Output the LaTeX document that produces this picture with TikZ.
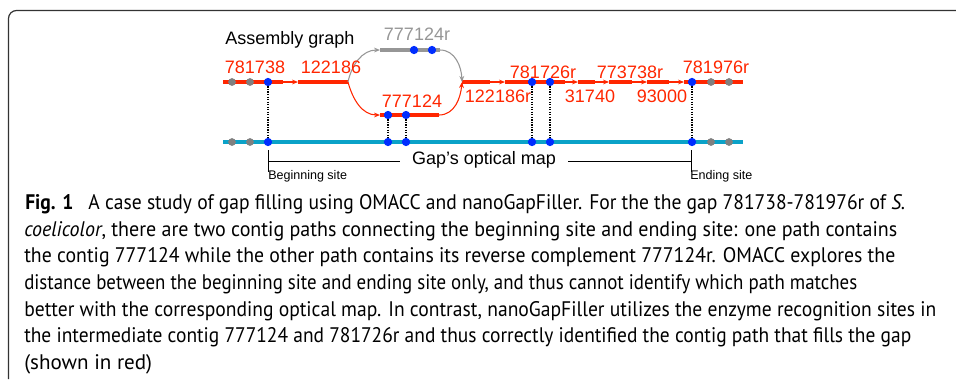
\documentclass[tikz,border=0pt]{standalone}
\usepackage{fontspec}
\usepackage{graphicx}
\setmainfont{Liberation Sans}
\newfontfamily\capfont{PT Sans}
\usetikzlibrary{arrows.meta}

\definecolor{ctgred}{RGB}{255,38,0}
\definecolor{revgray}{RGB}{150,150,150}
\definecolor{dotgray}{RGB}{128,128,128}
\definecolor{siteblue}{RGB}{0,45,255}
\definecolor{mapcyan}{RGB}{10,162,200}

\tikzset{
	contig/.style={line width=3.6pt, line cap=butt},
	ctglink/.style={line width=0.8pt, -{Stealth[length=4.5pt,width=3.6pt]}},
	ctglabel/.style={anchor=base, inner sep=0pt, font=\fontsize{13.5}{16}\selectfont},
	site/.style={circle, inner sep=0pt, minimum size=6.2pt, fill=siteblue},
	othersite/.style={site, minimum size=5.8pt, fill=dotgray},
	align line/.style={densely dotted, line width=0.9pt},
	capline/.style={anchor=base west, inner sep=0pt, font=\capfont\fontsize{15.8}{19}\selectfont}
}

\begin{document}
\begin{tikzpicture}[x=0.75pt,y=0.75pt,yscale=-1,xscale=1]
	\useasboundingbox (0,0) rectangle (956,379);

	% frame of the figure box
	\coordinate (frTR) at (956,10.5);
	\coordinate (frTL) at (8.5,10.5);
	\coordinate (frBL) at (8.5,379);
	\draw [black!80, line width=0.9pt, rounded corners=6pt] (frTR) -- (frTL) -- (frBL);

	% contig ends on the assembly line
	\coordinate (c1s) at (223,82);  \coordinate (c1e) at (283,82);
	\coordinate (c2s) at (298,82);  \coordinate (c2e) at (348,82);
	\coordinate (c3s) at (380,50);  \coordinate (c3e) at (440,50);
	\coordinate (c4s) at (380,115); \coordinate (c4e) at (439,115);
	\coordinate (c5s) at (462,82);  \coordinate (c5e) at (490,82);
	\coordinate (c6s) at (505,82);  \coordinate (c6e) at (565,82);
	\coordinate (c7s) at (578,82);  \coordinate (c7e) at (595,82);
	\coordinate (c8s) at (609,82);  \coordinate (c8e) at (632,82);
	\coordinate (c9s) at (647,82);  \coordinate (c9e) at (669,82);
	\coordinate (c10s) at (684,82); \coordinate (c10e) at (743,82);

	% contigs
	\draw [contig, ctgred] (c1s) -- (c1e);
	\draw [contig, ctgred] (c2s) -- (c2e);
	\draw [contig, revgray] (c3s) -- (c3e);
	\draw [contig, ctgred] (c4s) -- (c4e);
	\draw [contig, ctgred] (c5s) -- (c5e);
	\draw [contig, ctgred] (c6s) -- (c6e);
	\draw [contig, ctgred] (c7s) -- (c7e);
	\draw [contig, ctgred] (c8s) -- (c8e);
	\draw [contig, ctgred] (c9s) -- (c9e);
	\draw [contig, ctgred] (c10s) -- (c10e);

	% links between contigs
	\draw [ctglink, ctgred] (c1e) -- (c2s);
	\draw [ctglink, revgray] (c2e) to[out=-78,in=180] (c3s);
	\draw [ctglink, revgray] (c3e) to[out=0,in=-92] (c5s);
	\draw [ctglink, ctgred] (c2e) to[out=75,in=180] (c4s);
	\draw [ctglink, ctgred] (c4e) to[out=0,in=95] (c5s);
	\draw [ctglink, ctgred] (c5e) -- (c6s);
	\draw [ctglink, ctgred] (c6e) -- (c7s);
	\draw [ctglink, ctgred] (c7e) -- (c8s);
	\draw [ctglink, ctgred] (c8e) -- (c9s);
	\draw [ctglink, ctgred] (c9e) -- (c10s);

	% optical map
	\coordinate (mapL) at (223,142);
	\coordinate (mapR) at (743,142);
	\draw [mapcyan, line width=3pt] (mapL) -- (mapR);

	% sites on the contigs
	\node [othersite] (g1) at (232,82) {};
	\node [othersite] (g2) at (250,82) {};
	\node [site] (a1) at (268,82) {};
	\node [site] (r1) at (414,50) {};
	\node [site] (r2) at (432,50) {};
	\node [site] (a2) at (388,115) {};
	\node [site] (a3) at (406,115) {};
	\node [site] (a4) at (532,82) {};
	\node [site] (a5) at (550,82) {};
	\node [site] (a6) at (692,82) {};
	\node [othersite] (g3) at (711,82) {};
	\node [othersite] (g4) at (729,82) {};

	% sites on the optical map
	\node [othersite] (mg1) at (232,142) {};
	\node [othersite] (mg2) at (250,142) {};
	\node [site] (m1) at (268,142) {};
	\node [site] (m2) at (388,142) {};
	\node [site] (m3) at (406,142) {};
	\node [site] (m4) at (532,142) {};
	\node [site] (m5) at (550,142) {};
	\node [site] (m6) at (692,142) {};
	\node [othersite] (mg3) at (711,142) {};
	\node [othersite] (mg4) at (729,142) {};

	% alignment of the sites
	\draw [align line] (a1) -- (m1);
	\draw [align line] (a2) -- (m2);
	\draw [align line] (a3) -- (m3);
	\draw [align line] (a4) -- (m4);
	\draw [align line] (a5) -- (m5);
	\draw [align line] (a6) -- (m6);

	% contig names
	\node [anchor=base west, inner sep=0pt, font=\fontsize{13.5}{16}\selectfont] (title) at (225,44) {Assembly graph};
	\node [ctglabel, ctgred] (l781738) at (255,73) {781738};
	\node [ctglabel, ctgred] (l122186) at (331,73) {122186};
	\node [ctglabel, revgray] (l777124r) at (417,40) {777124r};
	\node [ctglabel, ctgred] (l777124) at (412,107) {777124};
	\node [ctglabel, ctgred] (l122186r) at (498,102) {122186r};
	\node [ctglabel, ctgred] (l781726r) at (543,78) {781726r};
	\node [ctglabel, ctgred] (l31740) at (590,102) {31740};
	\node [ctglabel, ctgred] (l773738r) at (630,78) {773738r};
	\node [ctglabel, ctgred] (l93000) at (662,102) {93000};
	\node [ctglabel, ctgred] (l781976r) at (716,73) {781976r};

	% gap bracket
	\coordinate (bL) at (268,161);
	\coordinate (bR) at (691,161);
	\node [inner xsep=9pt, inner ysep=0pt, font=\fontsize{13.5}{16}\selectfont] (gapmap) at (484,160) {Gap's optical map};
	\draw [line width=0.75pt] (bL) -- (gapmap.west |- bL);
	\draw [line width=0.75pt] (gapmap.east |- bR) -- (bR);
	\draw [line width=0.75pt] (bL) ++(0,-11) -- ++(0,22);
	\draw [line width=0.75pt] (bR) ++(0,-11) -- ++(0,22);
	\node [anchor=base west, inner sep=0pt, font=\fontsize{9.4}{11}\selectfont] (begsite) at (268,179) {Beginning site};
	\node [anchor=base west, inner sep=0pt, font=\fontsize{9.4}{11}\selectfont] (endsite) at (690,179) {Ending site};

	% caption
	\node [capline] (cap1) at (25,209) {\resizebox{660pt}{\height}{\textbf{Fig. 1}\hspace{0.5em} A case study of gap filling using OMACC and nanoGapFiller. For the the gap 781738-781976r of \textit{S.}}};
	\node [capline] (cap2) at (24,236) {\resizebox{654.75pt}{\height}{\textit{coelicolor}, there are two contig paths connecting the beginning site and ending site: one path contains}};
	\node [capline] (cap3) at (24,262) {\resizebox{653.25pt}{\height}{the contig 777124 while the other path contains its reverse complement 777124r. OMACC explores the}};
	\node [capline] (cap4) at (24,289) {\resizebox{624.75pt}{\height}{distance between the beginning site and ending site only, and thus cannot identify which path matches}};
	\node [capline] (cap5) at (24,316) {\resizebox{684pt}{\height}{better with the corresponding optical map. In contrast, nanoGapFiller utilizes the enzyme recognition sites in}};
	\node [capline] (cap6) at (24,342) {\resizebox{665.25pt}{\height}{the intermediate contig 777124 and 781726r and thus correctly identified the contig path that fills the gap}};
	\node [capline] (cap7) at (24,369) {(shown in red)};

\end{tikzpicture}
\end{document}
